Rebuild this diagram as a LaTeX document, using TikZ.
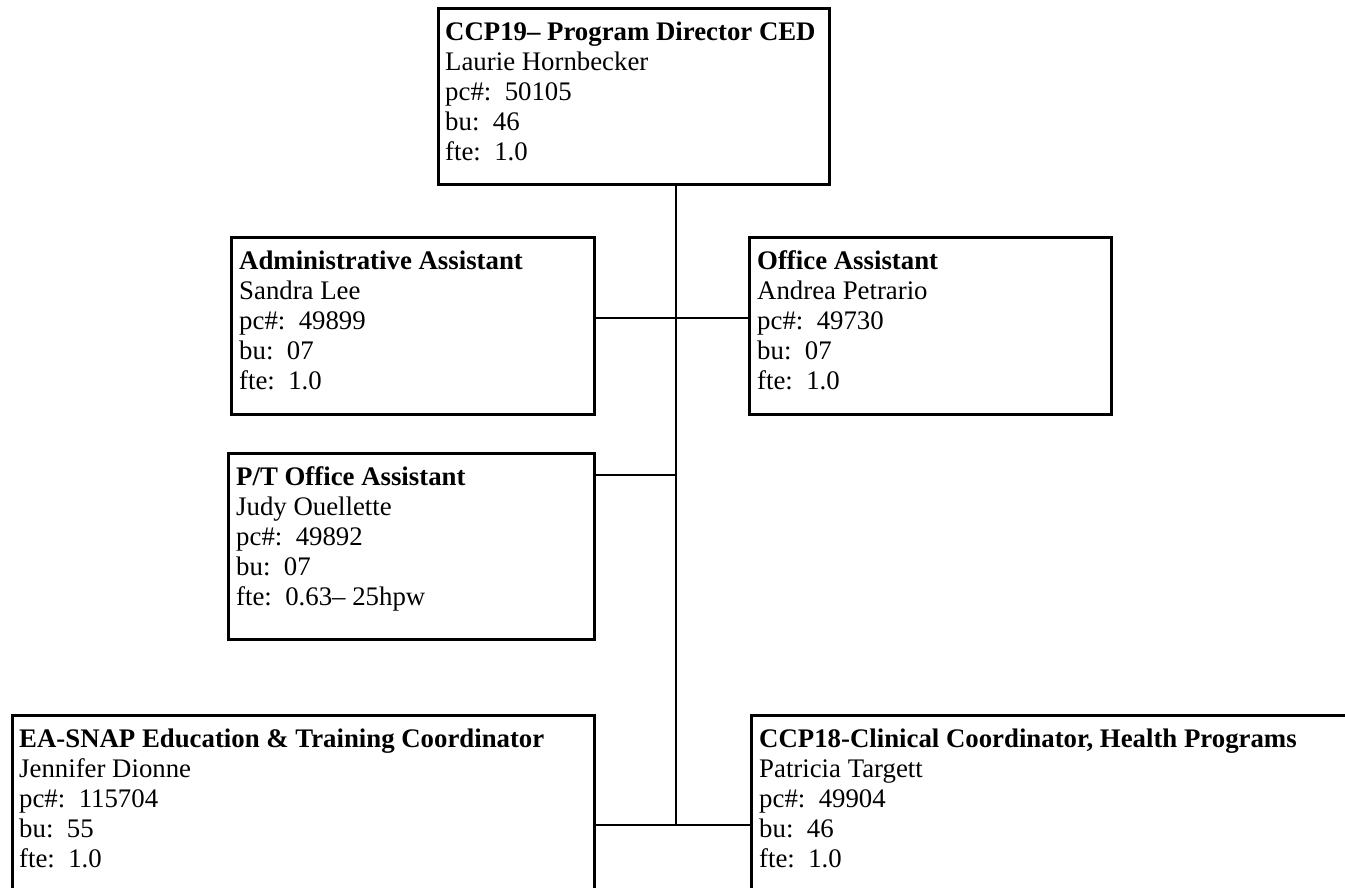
\documentclass[tikz,border=0pt]{standalone}
\usepackage{fontspec}
\setmainfont{Liberation Serif}
\begin{document}
\begin{tikzpicture}[x=1pt,y=-1pt,
  box/.style={draw, line width=2.7pt, anchor=north west, inner sep=0pt},
  txt/.style={anchor=north west, inner sep=0pt, align=left, font=\fontsize{26.8}{30}\selectfont},
  conn/.style={line width=1.9pt}]
\useasboundingbox (0,0) rectangle (1345,887);
\clip (0,0) rectangle (1345,887);
\fill[white] (0,0) rectangle (1345,887);
% boxes
\node[box, minimum width=391pt, minimum height=176pt] (top) at (437,7) {};
\node[box, minimum width=363pt, minimum height=177pt] (admin) at (230,236) {};
\node[box, minimum width=362pt, minimum height=177pt] (office) at (748,236) {};
\node[box, minimum width=366pt, minimum height=186pt] (pt) at (227,452) {};
\node[box, minimum width=582pt, minimum height=200pt] (bl) at (11,714) {};
\node[box, minimum width=620pt, minimum height=200pt] (br) at (750,714) {};
% texts
\node[txt] (ttop) at ([shift={(8,14.5)}]top.north west) {\textbf{CCP19– Program Director CED}\\Laurie Hornbecker\\pc\#:\ \ 50105\\bu:\ \ 46\\fte:\ \ 1.0};
\node[txt] (tadmin) at ([shift={(9,14.5)}]admin.north west) {\textbf{Administrative Assistant}\\Sandra Lee\\pc\#:\ \ 49899\\bu:\ \ 07\\fte:\ \ 1.0};
\node[txt] (toffice) at ([shift={(9,14.5)}]office.north west) {\textbf{Office Assistant}\\Andrea Petrario\\pc\#:\ \ 49730\\bu:\ \ 07\\fte:\ \ 1.0};
\node[txt] (tpt) at ([shift={(9,14.5)}]pt.north west) {\textbf{P/T Office Assistant}\\Judy Ouellette\\pc\#:\ \ 49892\\bu:\ \ 07\\fte:\ \ 0.63– 25hpw};
\node[txt] (tbl) at ([shift={(8,14.5)}]bl.north west) {\textbf{EA-SNAP Education \& Training Coordinator}\\Jennifer Dionne\\pc\#:\ \ 115704\\bu:\ \ 55\\fte:\ \ 1.0};
\node[txt] (tbr) at ([shift={(9,14.5)}]br.north west) {\textbf{CCP18-Clinical Coordinator, Health Programs}\\Patricia Targett\\pc\#:\ \ 49904\\bu:\ \ 46\\fte:\ \ 1.0};
% connectors
\coordinate (vx) at (676,0);
\coordinate (y1) at (0,318);
\coordinate (y2) at (0,475);
\coordinate (y3) at (0,825);
\draw[conn] (top.south -| vx) -- (vx |- y3);
\draw[conn] (admin.east |- y1) -- (office.west |- y1);
\draw[conn] (pt.east |- y2) -- (vx |- y2);
\draw[conn] (bl.east |- y3) -- (br.west |- y3);
\end{tikzpicture}
\end{document}
